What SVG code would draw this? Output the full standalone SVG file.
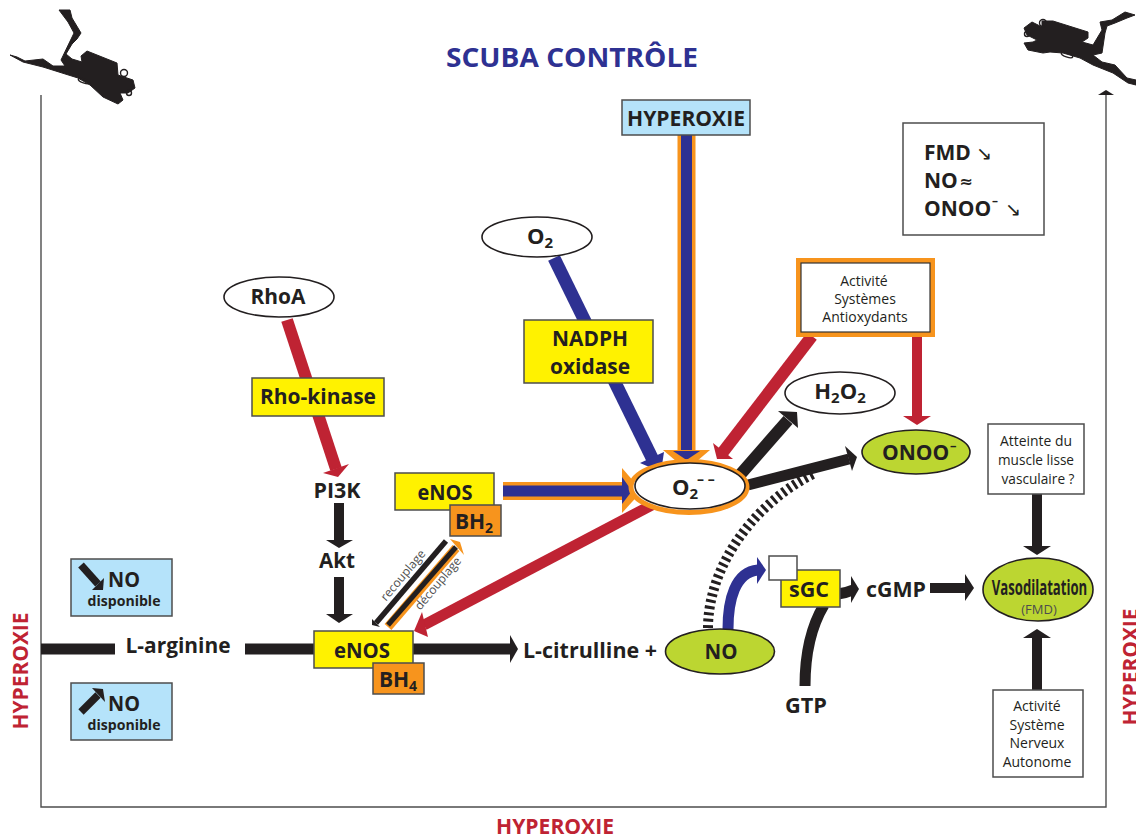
<svg xmlns="http://www.w3.org/2000/svg" width="1136" height="838" viewBox="0 0 1136 838">
<style>
text{font-family:"Open Sans","Noto Sans","Liberation Sans",sans-serif;fill:#231f20;text-anchor:middle}
.b{font-weight:700;font-size:22px}
.s{font-weight:700;font-size:21px}
.st{text-anchor:start}
.r{font-weight:400;font-size:14px}
.h{font-weight:700;font-size:21px;fill:#bf2333}
.u{font-family:"DejaVu Sans",sans-serif}
.box{stroke:#4d4d4d;stroke-width:1.5}
.y{fill:#fff200}.o{fill:#f7941d}.c{fill:#b5e3fa}.w{fill:#fff}.g{fill:#bcd631}
.e{stroke:#231f20;stroke-width:1.6}
.k{fill:#231f20}.rd{fill:#bf2333}.bl{fill:#2e3192}.or{fill:#f7941d}
.lk{stroke:#231f20;fill:none}.lr{stroke:#bf2333;fill:none}.lb{stroke:#2e3192;fill:none}.lo{stroke:#f7941d;fill:none}
.ring{fill:none;stroke:#231f20;stroke-width:1.4}
</style>
<g id="axes">
<path d="M41,95V807H1106V95" fill="none" stroke="#4d4d4d" stroke-width="1.4"/>
<polygon points="1098,95 1114,95 1106,90" fill="#231f20"/>
</g>
<g id="divers">
<path class="k" stroke="#231f20" stroke-width="1" stroke-linejoin="round" d="M59,10L70,10L72,18L81,33L77,39L72,44L66,54L72,59L82,62L81,56L87,51L117,63L118,75L133,80L135,88L128,93L120,93L123,100L118,104L103,97L90,85L78,78L43,67L23,62L10,55L17,57L25,61L43,59L53,66L65,66L61,60L74,33L68,22Z"/>
<circle class="ring" cx="124" cy="73" r="3.500"/><circle class="ring" cx="129" cy="93" r="2.500"/><ellipse class="ring" cx="84" cy="81" rx="6" ry="2" transform="rotate(20 84 81)"/>
<path class="k" stroke="#231f20" stroke-width="1" stroke-linejoin="round" d="M1100,22L1112,20L1125,12L1135,15L1127,18L1115,23L1107,26L1105,33L1102,53L1093,55L1102,62L1115,65L1127,78L1136,80L1136,85L1128,83L1113,73L1093,65L1080,58L1063,53L1050,52L1043,53L1028,50L1024,43L1033,42L1037,40L1027,35L1024,28L1032,22L1042,27L1042,21L1053,21L1088,32L1088,38L1082,42L1093,45L1102,30Z"/>
<circle class="ring" cx="1043" cy="23" r="3.500"/><circle class="ring" cx="1027" cy="34" r="2.500"/><ellipse class="ring" cx="1067" cy="55" rx="6" ry="2" transform="rotate(20 1067 55)"/>
</g>
<text id="title" x="572" y="67" font-size="27" font-weight="700" style="fill:#2e3192" textLength="252" lengthAdjust="spacingAndGlyphs">SCUBA CONTRÔLE</text>
<text class="h" transform="translate(28,671) rotate(-90)" textLength="117" lengthAdjust="spacingAndGlyphs">HYPEROXIE</text>
<text class="h" transform="translate(1138,667) rotate(-90)" textLength="117" lengthAdjust="spacingAndGlyphs">HYPEROXIE</text>
<text class="h" x="555" y="834" textLength="118" lengthAdjust="spacingAndGlyphs">HYPEROXIE</text>
<g id="connectors">
<path class="lk" stroke-width="11" d="M41,649H115M245,649H320M410,649H511"/>
<polygon class="k" points="510,635 518,649 510,663"/>
<path class="lo" stroke-width="18" d="M686.500,135V452"/>
<path class="lb" stroke-width="11" d="M686.500,135V452"/>
<polygon class="or" points="663,450 710,450 686.500,470"/>
<polygon class="bl" points="673,451 700,451 686.500,460"/>
<path class="lb" stroke-width="13" d="M554,258L654,462"/>
<polygon class="bl" points="640,463 664,452 661,472"/>
<path class="lr" stroke-width="12" d="M287,320L336,469"/>
<polygon class="rd" points="323,473 349,464 338,477"/>
<path class="lk" stroke-width="10" d="M339,503V541M339,577V615"/>
<polygon class="k" points="326,540 353,540 339,548"/>
<polygon class="k" points="326,614 353,614 339,623"/>
<path class="lo" stroke-width="18" d="M503,491H623"/>
<path class="lb" stroke-width="11" d="M503,491H623"/>
<polygon class="or" points="622,468 642,491 622,513"/>
<polygon class="bl" points="622,477 632,491 622,504"/>
<path class="lr" stroke-width="11" d="M652,505L424,625"/>
<polygon class="rd" points="422,612 414,631 428,637"/>
<path class="lo" stroke-width="9" d="M388,627L456,548"/>
<path class="lk" stroke-width="5" d="M388,625L456,547"/>
<polygon class="or" points="450,539 460,542 464,555"/>
<path class="lk" stroke-width="5.500" d="M446,541L376,623"/>
<polygon class="k" points="372,619 380,627 372,625"/>
<path class="lr" stroke-width="12" d="M812,336L723,452"/>
<polygon class="rd" points="713,443 733,459 717,459"/>
<path class="lr" stroke-width="10" d="M917,336V417"/>
<polygon class="rd" points="903,416 931,416 917,425"/>
<path class="lk" stroke-width="12" d="M739,476L788,420"/>
<polygon class="k" points="778,411 797,412 798,428"/>
<path class="lk" stroke-width="11" d="M748,485L849,459"/>
<polygon class="k" points="845,446 857,457 852,471"/>
<path d="M708,628C708,570 750,505 815,473" fill="none" stroke="#231f20" stroke-width="10" stroke-dasharray="3 3.400"/>
<path class="lb" stroke-width="11" d="M728,629C728,600 735,572 758,570"/>
<polygon class="bl" points="757,557 766,570 757,584"/>
<path class="lk" stroke-width="11" d="M805,686C805,650 812,625 824,605"/>
<path class="lk" stroke-width="11" d="M838,594Q846,593 853,590"/>
<polygon class="k" points="851,576 859,589 851,603"/>
<path class="lk" stroke-width="10" d="M930,588H966"/>
<polygon class="k" points="965,574 974,588 965,601"/>
<path class="lk" stroke-width="10" d="M1037,494V547M1037,637V690"/>
<polygon class="k" points="1023,546 1051,546 1037,555"/>
<polygon class="k" points="1023,638 1051,638 1037,629"/>
<text style="font-size:12px;fill:#4d4d4d" transform="translate(406,578) rotate(-50)">recouplage</text>
<text style="font-size:12px;fill:#4d4d4d" transform="translate(441,586) rotate(-50)">découplage</text>
</g>
<g id="node-hyperoxie"><rect class="box c" x="622" y="100" width="128" height="35"/><text class="b" x="686" y="126" textLength="118" lengthAdjust="spacingAndGlyphs">HYPEROXIE</text></g>
<g id="node-o2"><ellipse class="e w" cx="537" cy="237" rx="55" ry="20"/><text class="b" x="540" y="244">O<tspan font-size="15" dy="4">2</tspan></text></g>
<g id="node-rhoa"><ellipse class="e w" cx="279" cy="297" rx="55" ry="20"/><text class="b" x="278" y="304" textLength="55" lengthAdjust="spacingAndGlyphs">RhoA</text></g>
<g id="node-rhokinase"><rect class="box y" x="252" y="378" width="132" height="38"/><text class="b" x="318" y="404" textLength="116" lengthAdjust="spacingAndGlyphs">Rho-kinase</text></g>
<g id="node-nadph"><rect class="box y" x="524" y="320" width="129" height="63"/><text class="b" x="590" y="346" textLength="76" lengthAdjust="spacingAndGlyphs">NADPH</text><text class="b" x="590" y="374" textLength="80" lengthAdjust="spacingAndGlyphs">oxidase</text></g>
<g id="node-pi3k"><text class="b" x="337" y="498" textLength="47" lengthAdjust="spacingAndGlyphs">PI3K</text></g>
<g id="node-akt"><text class="b" x="337" y="568" textLength="36" lengthAdjust="spacingAndGlyphs">Akt</text></g>
<g id="node-enos2"><rect class="box y" x="395" y="473" width="99" height="37"/><text class="b" x="445" y="500" textLength="55" lengthAdjust="spacingAndGlyphs">eNOS</text></g>
<g id="node-bh2"><rect class="box o" x="450" y="505" width="51" height="31"/><text class="s" x="474" y="529">BH<tspan font-size="14" dy="4">2</tspan></text></g>
<g id="node-enos4"><rect class="box y" x="314" y="631" width="99" height="37"/><text class="b" x="362" y="658" textLength="56" lengthAdjust="spacingAndGlyphs">eNOS</text></g>
<g id="node-bh4"><rect class="box o" x="373" y="663" width="51" height="31"/><text class="s" x="398" y="687">BH<tspan font-size="14" dy="4">4</tspan></text></g>
<g id="node-larginine"><text class="b" x="178" y="653" textLength="105" lengthAdjust="spacingAndGlyphs">L-arginine</text></g>
<g id="node-lcitrulline"><text class="b" x="590" y="658" textLength="134" lengthAdjust="spacingAndGlyphs">L-citrulline +</text></g>
<g id="node-o2radical"><ellipse cx="689" cy="487" rx="58" ry="25.500" fill="#fff" stroke="#f7941d" stroke-width="5"/><ellipse class="e w" cx="690" cy="486" rx="55" ry="23"/><text class="b st" x="672" y="495">O<tspan font-size="15" dy="4">2</tspan><tspan font-size="14" x="697" y="484">– –</tspan></text></g>
<g id="node-antiox"><rect x="798.500" y="260.500" width="134" height="74" fill="#fff" stroke="#f7941d" stroke-width="5"/><rect x="801" y="263" width="129" height="69" fill="none" stroke="#333" stroke-width="1.200"/><text class="r" x="864" y="286">Activité</text><text class="r" x="865" y="304">Systèmes</text><text class="r" x="865" y="322">Antioxydants</text></g>
<g id="node-h2o2"><ellipse class="e w" cx="840" cy="393" rx="55" ry="21"/><text class="b" x="840" y="399">H<tspan font-size="15" dy="4">2</tspan><tspan dy="-4">O</tspan><tspan font-size="15" dy="4">2</tspan></text></g>
<g id="node-onoo"><ellipse class="e g" cx="916" cy="452" rx="54" ry="22"/><text class="s st" x="882" y="460">ONOO<tspan x="950" y="450" font-size="13">–</tspan></text></g>
<g id="node-fmd"><rect class="box w" x="903" y="123" width="141" height="112"/>
<text class="s st" x="924" y="160">FMD</text><text class="u" x="984" y="160" font-size="19">↘</text>
<text class="s st" x="924" y="188">NO</text><text class="u" x="966" y="187" font-size="16" font-weight="700">≈</text>
<text class="s st" x="924" y="216">ONOO<tspan x="992" y="205" font-size="12">–</tspan></text><text class="u" x="1013" y="216" font-size="19">↘</text></g>
<g id="node-no-down"><rect class="box c" x="71" y="559" width="101" height="57"/><path class="lk" stroke-width="7.500" d="M81,565L98,584"/><polygon class="k" points="92,590 103,590 104,578"/><text class="b" x="124" y="587" textLength="32" lengthAdjust="spacingAndGlyphs">NO</text><text x="124" y="606" font-size="14" font-weight="700" textLength="73" lengthAdjust="spacingAndGlyphs">disponible</text></g>
<g id="node-no-up"><rect class="box c" x="71" y="683" width="101" height="57"/><path class="lk" stroke-width="7.500" d="M81,712L98,695"/><polygon class="k" points="92,688 103,689 105,702"/><text class="b" x="124" y="711" textLength="32" lengthAdjust="spacingAndGlyphs">NO</text><text x="124" y="730" font-size="14" font-weight="700" textLength="73" lengthAdjust="spacingAndGlyphs">disponible</text></g>
<g id="node-no"><ellipse class="e g" cx="720" cy="651.500" rx="54.500" ry="22.500"/><text class="b" x="721" y="659" textLength="33" lengthAdjust="spacingAndGlyphs">NO</text></g>
<g id="node-sgc"><rect class="box y" x="781" y="570" width="59" height="37"/><rect class="box w" x="769" y="556" width="28" height="24"/><text class="b" x="809" y="597" textLength="40" lengthAdjust="spacingAndGlyphs">sGC</text></g>
<g id="node-gtp"><text class="b" x="806" y="713" textLength="42" lengthAdjust="spacingAndGlyphs">GTP</text></g>
<g id="node-cgmp"><text class="b" x="896" y="597" textLength="60" lengthAdjust="spacingAndGlyphs">cGMP</text></g>
<g id="node-atteinte"><rect class="box w" x="988" y="424" width="96" height="70"/><text class="r" x="1036" y="446" textLength="72" lengthAdjust="spacingAndGlyphs">Atteinte du</text><text class="r" x="1036" y="465" textLength="76" lengthAdjust="spacingAndGlyphs">muscle lisse</text><text class="r" x="1038" y="484" textLength="73" lengthAdjust="spacingAndGlyphs">vasculaire ?</text></g>
<g id="node-vaso"><ellipse class="e g" cx="1038" cy="589.500" rx="55" ry="31.500"/><text transform="translate(1039.500,595) scale(.625,1)" font-size="21" font-weight="700">Vasodilatation</text><text x="1039" y="614" font-size="13" style="fill:#4d4d4d">(FMD)</text></g>
<g id="node-ans"><rect class="box w" x="993" y="690" width="90" height="87"/><text class="r" x="1037" y="711">Activité</text><text class="r" x="1037" y="730">Système</text><text class="r" x="1037" y="748">Nerveux</text><text class="r" x="1037" y="767">Autonome</text></g>
</svg>
